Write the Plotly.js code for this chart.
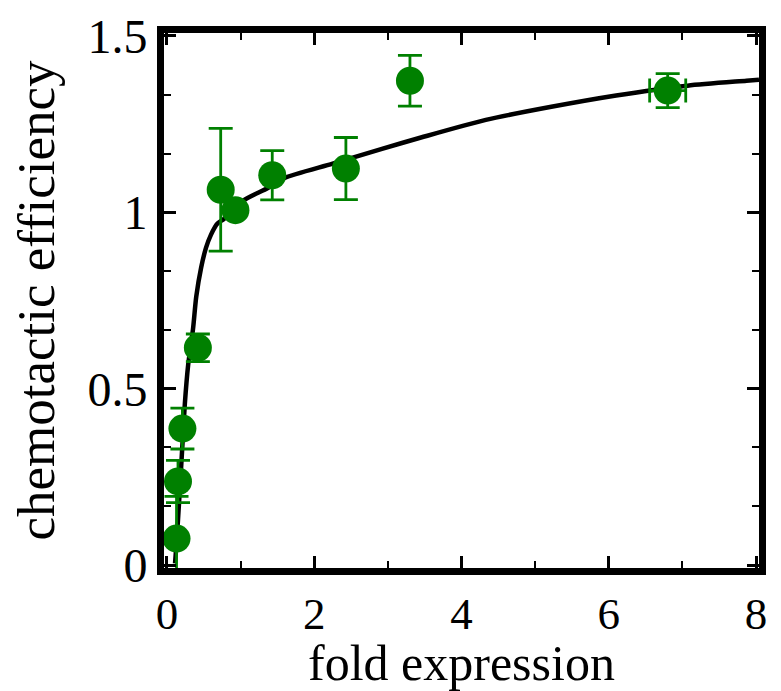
<!DOCTYPE html>
<html>
<head>
<meta charset="utf-8">
<script src="https://cdn.plot.ly/plotly-3.0.1.min.js"></script>
<style>
  html, body { margin: 0; padding: 0; background: #ffffff; }
  #chart { width: 781px; height: 691px; }
</style>
</head>
<body>
<div id="chart"></div>
<script>
// Measured chemotactic efficiency versus fold expression
const foldExpression = [0.13, 0.15, 0.21, 0.42, 0.73, 0.93, 1.43, 2.43, 3.30, 6.80];
const efficiency     = [0.075, 0.237, 0.387, 0.616, 1.064, 1.006, 1.105, 1.124, 1.373, 1.345];
const efficiencyErr  = [0.12, 0.06, 0.058, 0.039, 0.174, 0, 0.07, 0.088, 0.072, 0.048];
const expressionErr  = [0, 0, 0, 0, 0, 0, 0, 0, 0, 0.245];

// Model curve
const modelX = [0.11, 0.133, 0.199, 0.243, 0.288, 0.354, 0.398, 0.464, 0.53, 0.597, 0.686, 0.773,
                1.035, 1.37, 1.59, 2.25, 2.92, 3.45, 4.33, 5.22, 6.1, 7.07, 7.87, 8.04];
const modelY = [0.005, 0.07, 0.30, 0.457, 0.567, 0.669, 0.761, 0.843, 0.899, 0.936, 0.968, 0.981,
                1.033, 1.069, 1.097, 1.138, 1.18, 1.212, 1.262, 1.299, 1.331, 1.359, 1.373, 1.376];

const xTicks = [0, 2, 4, 6, 8];
const yTicks = [0, 0.5, 1, 1.5];
const yTickText = ['0', '0.5', '1', '1.5'];

const GREEN = '#008000';
const SERIF = '"Liberation Serif", "Times New Roman", serif';

const traces = [
  {
    x: modelX, y: modelY,
    type: 'scatter', mode: 'lines',
    line: { color: '#000000', width: 4.5, shape: 'spline', smoothing: 0.7 },
    hoverinfo: 'skip', showlegend: false
  },
  {
    x: foldExpression, y: efficiency,
    type: 'scatter', mode: 'markers',
    marker: { color: GREEN, size: 28, line: { width: 0 } },
    error_y: { type: 'data', array: efficiencyErr, visible: true, color: GREEN, thickness: 2.8, width: 12 },
    error_x: { type: 'data', array: expressionErr, visible: true, color: GREEN, thickness: 2.8, width: 12 },
    showlegend: false
  }
];

const axisCommon = {
  showline: true, linecolor: '#000000', linewidth: 7, mirror: 'allticks',
  ticks: 'inside', ticklen: 12, tickwidth: 3, tickcolor: '#000000',
  showgrid: false, zeroline: false
};

const layout = {
  width: 781, height: 691,
  paper_bgcolor: '#ffffff', plot_bgcolor: '#ffffff',
  margin: { l: 164, r: 22, t: 33, b: 123 },
  showlegend: false,
  xaxis: Object.assign({}, axisCommon, {
    range: [-0.04, 8.04],
    tickmode: 'array', tickvals: xTicks, ticktext: xTicks.map(String),
    tickfont: { family: SERIF, size: 45, color: '#000000' },
    minor: { dtick: 1, ticks: 'inside', ticklen: 7, tickwidth: 2, tickcolor: '#000000' },
    title: { text: 'fold expression', font: { family: SERIF, size: 50, color: '#000000' }, standoff: 2 }
  }),
  yaxis: Object.assign({}, axisCommon, {
    range: [-0.0083, 1.5083],
    tickmode: 'array', tickvals: yTicks, ticktext: yTickText,
    tickfont: { family: SERIF, size: 48, color: '#000000' },
    minor: { tick0: 0, dtick: 0.5 / 3, ticks: 'inside', ticklen: 7, tickwidth: 2, tickcolor: '#000000' },
    title: { text: 'chemotactic efficiency', font: { family: SERIF, size: 53, color: '#000000' }, standoff: 18 }
  })
};

Plotly.newPlot('chart', traces, layout, { staticPlot: true, displayModeBar: false });
</script>
</body>
</html>
